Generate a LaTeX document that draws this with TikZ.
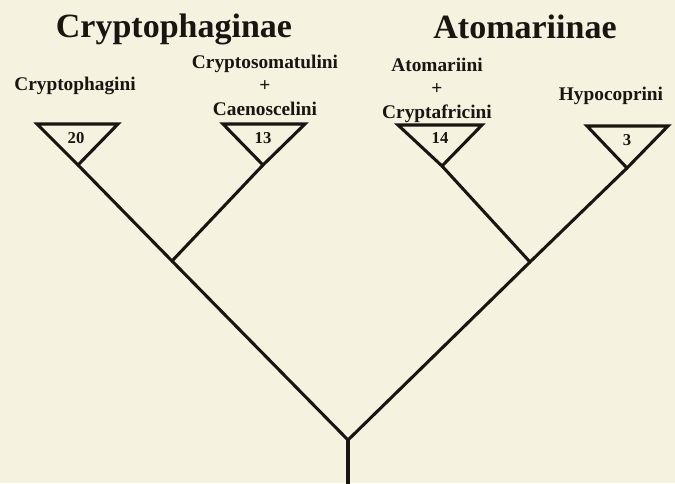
\documentclass[tikz,border=0pt]{standalone}
\usepackage{fontspec}
\setmainfont{Liberation Serif}
\definecolor{paper}{RGB}{245,242,224}
\definecolor{ink}{RGB}{25,22,18}
\begin{document}
\begin{tikzpicture}[x=0.75pt,y=-0.75pt,
  branch/.style={draw=ink,line width=2.3pt,line cap=round},
  clade/.style={draw=ink,line width=2.3pt,line join=miter},
  title/.style={inner sep=0pt,anchor=base,text=ink,font=\fontsize{25.5}{30}\selectfont\bfseries},
  taxon/.style={inner sep=0pt,anchor=base,align=center,text=ink,font=\fontsize{14.5}{17.6}\selectfont\bfseries},
  count/.style={inner sep=0pt,anchor=base,text=ink,font=\fontsize{12.5}{14}\selectfont\bfseries}]
\fill[paper] (0,0) rectangle (675,483);
\useasboundingbox (0,0) rectangle (675,483);
% clade triangles
\coordinate (a1) at (37,124);  \coordinate (b1) at (118,124); \coordinate (t1) at (78,165);
\coordinate (a2) at (223,124); \coordinate (b2) at (305,124); \coordinate (t2) at (263,165);
\coordinate (a3) at (398,125); \coordinate (b3) at (482,125); \coordinate (t3) at (442,166);
\coordinate (a4) at (587,126); \coordinate (b4) at (668,126); \coordinate (t4) at (627,168);
\draw[clade] (a1) -- (b1) -- (t1) -- cycle;
\draw[clade] (a2) -- (b2) -- (t2) -- cycle;
\draw[clade] (a3) -- (b3) -- (t3) -- cycle;
\draw[clade] (a4) -- (b4) -- (t4) -- cycle;
% internal nodes
\coordinate (L) at (172,261);
\coordinate (R) at (530,262);
\coordinate (root) at (348,440);
\coordinate (stem) at (348,485);
\draw[branch] (t1) -- (L) -- (t2);
\draw[branch] (t3) -- (R) -- (t4);
\draw[branch] (L) -- (root) -- (R);
\draw[branch] (root) -- (stem);
% counts
\node[count] (n1) at (76,143) {20};
\node[count] (n2) at (263,143) {13};
\node[count] (n3) at (440,143) {14};
\node[count] (n4) at (627,145) {3};
% labels
\node[title] (cry) at (174,37) {Cryptophaginae};
\node[title] (ato) at (525,38) {Atomariinae};
\node[taxon] (l1) at (75,90) {Cryptophagini};
\node[taxon] (l2) at (265,115) {Cryptosomatulini\\+\\Caenoscelini};
\node[taxon] (l3) at (437,118) {Atomariini\\+\\Cryptafricini};
\node[taxon] (l4) at (611,100) {Hypocoprini};
\end{tikzpicture}
\end{document}
